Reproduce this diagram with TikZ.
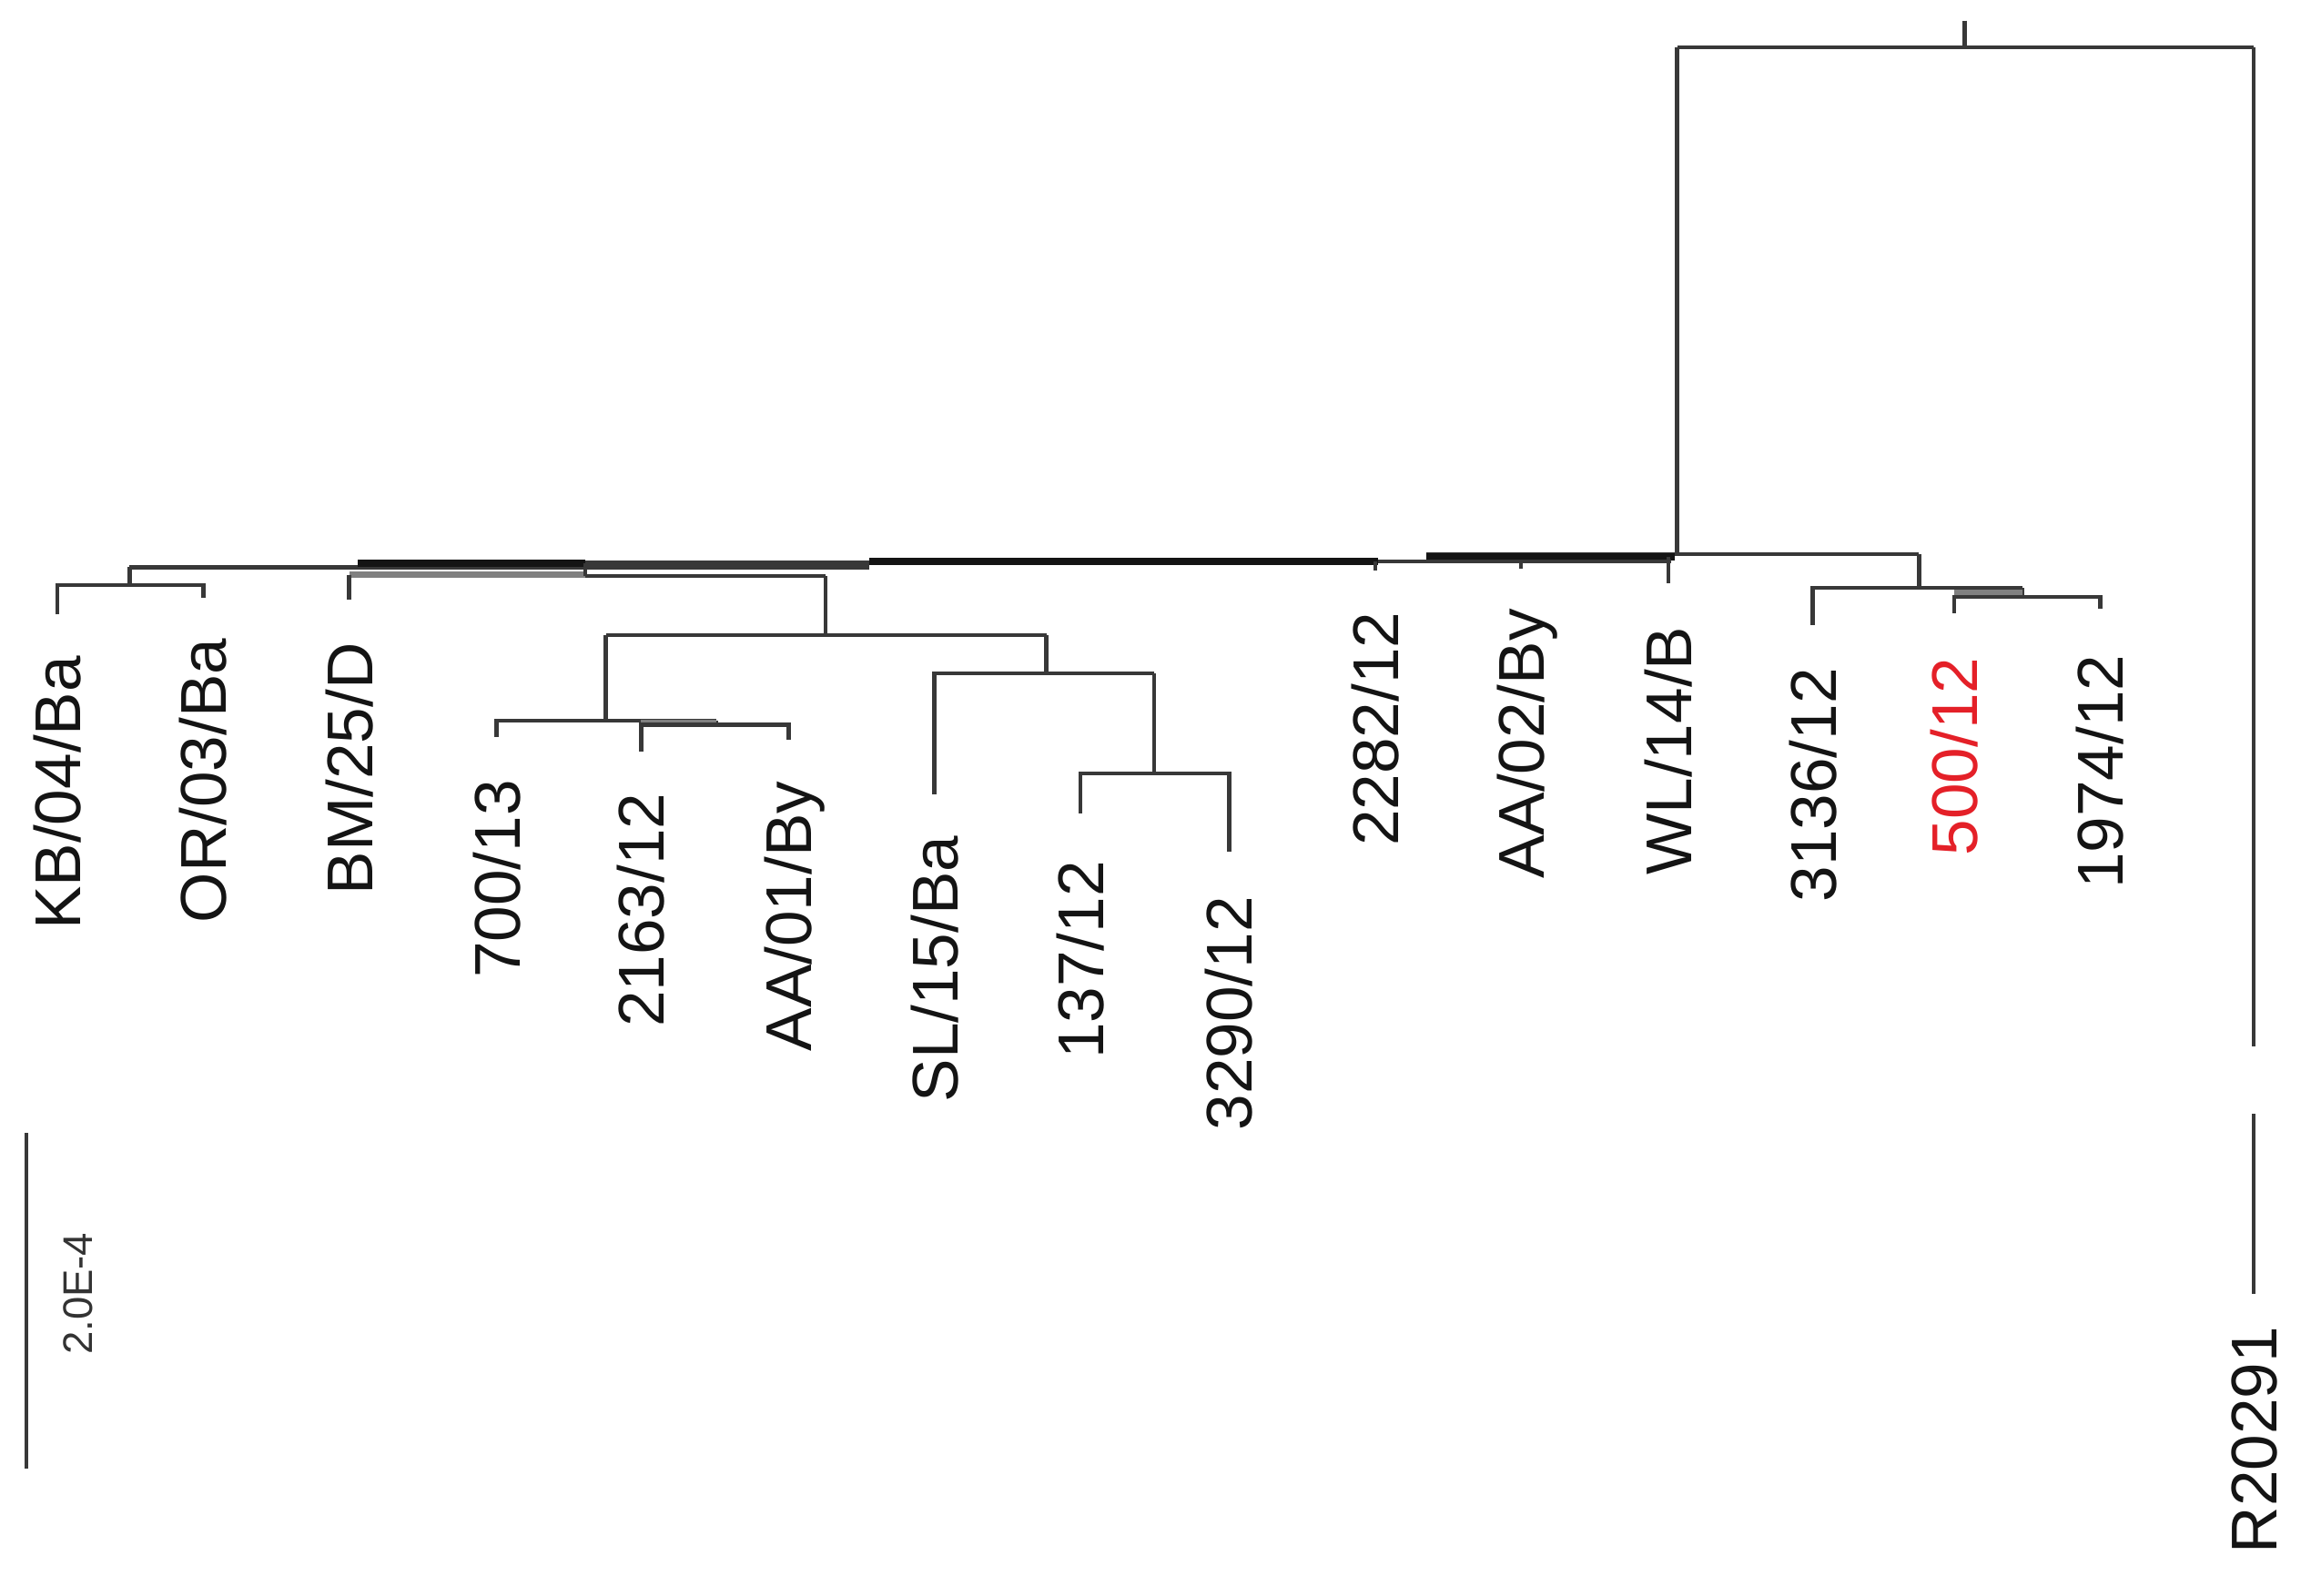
\documentclass[tikz,border=0pt]{standalone}
\usepackage{fontspec}
\setmainfont{Liberation Sans}
\definecolor{redlab}{RGB}{228,32,40}
\begin{document}
\begin{tikzpicture}[x=0.02cm,y=-0.02cm,
  br/.style={draw=black!78,line width=1.6pt},
  bb/.style={draw=black!92,line width=2.8pt},
  gb/.style={draw=black!50,line width=2.6pt},
  lab/.style={rotate=90,anchor=east,inner sep=0pt,text height=17.9pt,text depth=0pt,
    font=\fontsize{25}{25}\selectfont,text=black!92},
  sclab/.style={rotate=90,inner sep=0pt,font=\fontsize{16}{16}\selectfont,text=black!80}]

\useasboundingbox (0,0) rectangle (1568,1083);

% ---------------- root and outgroup
\coordinate (rt) at (1333,14);
\coordinate (r) at (1333,32);
\coordinate (cA) at (1138,32);
\coordinate (cB) at (1529,32);
\coordinate (bc) at (1138,376);
\coordinate (rb1) at (1529,710);
\coordinate (rb2) at (1529,756);
\coordinate (tR) at (1529,878);
\draw[br] (rt) -- (r);
\draw[br] (cA) -- (cB);
\draw[br] (cA) -- (bc);
\draw[br] (cB) -- (rb1);
\draw[br] (rb2) -- (tR);
\node[lab] (lR) at (1529,900) {R20291};

% ---------------- right part of backbone
\coordinate (b376L) at (968,376);
\coordinate (n3136p) at (1302,376);
\draw[br] (b376L) -- (n3136p);
\coordinate (n3136) at (1302,399);
\coordinate (t3136) at (1230,424);
\coordinate (n500) at (1372,399);
\coordinate (n500b) at (1372,405);
\coordinate (t500) at (1326,416);
\coordinate (t1974) at (1425,413);
\coordinate (g500a) at (1326,402);
\coordinate (g500b) at (1372,402);
\draw[br] (n3136p) -- (n3136);
\draw[br] (t3136) |- (n500);
\draw[br] (n500) -- (n500b);
\draw[gb,line width=1.8pt] (g500a) -- (g500b);
\draw[br] (t500) |- (n500b) -| (t1974);

% backbone middle
\coordinate (bbA) at (590,381);
\coordinate (bbB) at (935,381);
\coordinate (bbC) at (968,378);
\coordinate (bbD) at (1136,378);
\coordinate (bbE) at (1134,381);
\draw[bb] (bbA) -- (bbB);
\draw[bb] (bbC) -- (bbD);
\draw[br] (bbB) -- (bbE);
\coordinate (n2282) at (933,381);
\coordinate (t2282) at (933,387);
\coordinate (n02) at (1032,381);
\coordinate (t02) at (1032,386);
\coordinate (nWL) at (1132,378);
\coordinate (tWL) at (1132,396);
\draw[br] (n2282) -- (t2282);
\draw[br] (n02) -- (t02);
\draw[br] (nWL) -- (tWL);

% backbone left
\coordinate (kbn) at (88,385);
\coordinate (b385R) at (590,385);
\coordinate (k382a) at (243,382);
\coordinate (k382b) at (397,382);
\coordinate (k382c) at (590,382);
\coordinate (g390a) at (237,390);
\coordinate (g390b) at (397,390);
\coordinate (k391a) at (397,391);
\coordinate (bmn) at (560,391);
\draw[br] (kbn) -- (b385R);
\draw[bb] (k382a) -- (k382b);
\draw[br] (k382b) -- (k382c);
\draw[gb] (g390a) -- (g390b);
\draw[br] (k391a) -- (bmn);
\draw[br] (k382b) -- (k391a);

% KB / OR
\coordinate (kbo) at (88,397);
\coordinate (tKB) at (39,417);
\coordinate (tOR) at (138,406);
\draw[br] (kbn) -- (kbo);
\draw[br] (tKB) |- (kbo) -| (tOR);

% BM
\coordinate (tBM) at (237,407);
\draw[br] (g390a) -- (tBM);

% BM sister clade
\coordinate (n560) at (560,431);
\coordinate (n411) at (411,431);
\coordinate (n710) at (710,431);
\draw[br] (bmn) -- (n560);
\draw[br] (n411) -- (n710);

\coordinate (n700) at (411,489);
\coordinate (t700) at (337,500);
\coordinate (n486) at (486,489);
\coordinate (n486b) at (486,492);
\coordinate (t2163) at (435,510);
\coordinate (tAA01) at (535,502);
\coordinate (g486a) at (435,490);
\coordinate (g486b) at (486,490);
\draw[br] (n411) -- (n700);
\draw[br] (t700) |- (n486);
\draw[br] (n486) -- (n486b);
\draw[gb,line width=1.8pt] (g486a) -- (g486b);
\draw[br] (t2163) |- (n486b) -| (tAA01);

\coordinate (nSL) at (710,457);
\coordinate (tSL) at (634,539);
\coordinate (n783) at (783,457);
\coordinate (n783b) at (783,525);
\coordinate (t137) at (733,552);
\coordinate (t3290) at (834,578);
\draw[br] (n710) -- (nSL);
\draw[br] (tSL) |- (n783);
\draw[br] (n783) -- (n783b);
\draw[br] (t137) |- (n783b) -| (t3290);

% ---------------- leaf labels
\node[lab] (lKB) at (39,445) {KB/04/Ba};
\node[lab] (lOR) at (138,433) {OR/03/Ba};
\node[lab] (lBM) at (237,436) {BM/25/D};
\node[lab] (l700) at (337,529) {700/13};
\node[lab] (l2163) at (435,538) {2163/12};
\node[lab] (lAA01) at (535,530) {AA/01/By};
\node[lab] (lSL) at (634,567) {SL/15/Ba};
\node[lab] (l137) at (733,584) {137/12};
\node[lab] (l3290) at (834,608) {3290/12};
\node[lab] (l2282) at (933,415) {2282/12};
\node[lab] (lAA02) at (1032,413) {AA/02/By};
\node[lab] (lWL) at (1132,425) {WL/14/B};
\node[lab] (l3136) at (1230,453) {3136/12};
\node[lab,text=redlab] (l500) at (1326,446) {500/12};
\node[lab] (l1974) at (1425,444) {1974/12};

% ---------------- scale bar
\coordinate (sbT) at (18,769);
\coordinate (sbB) at (18,997);
\draw[br] (sbT) -- (sbB);
\node[sclab] (sbl) at (53,878) {2.0E-4};
\end{tikzpicture}
\end{document}
